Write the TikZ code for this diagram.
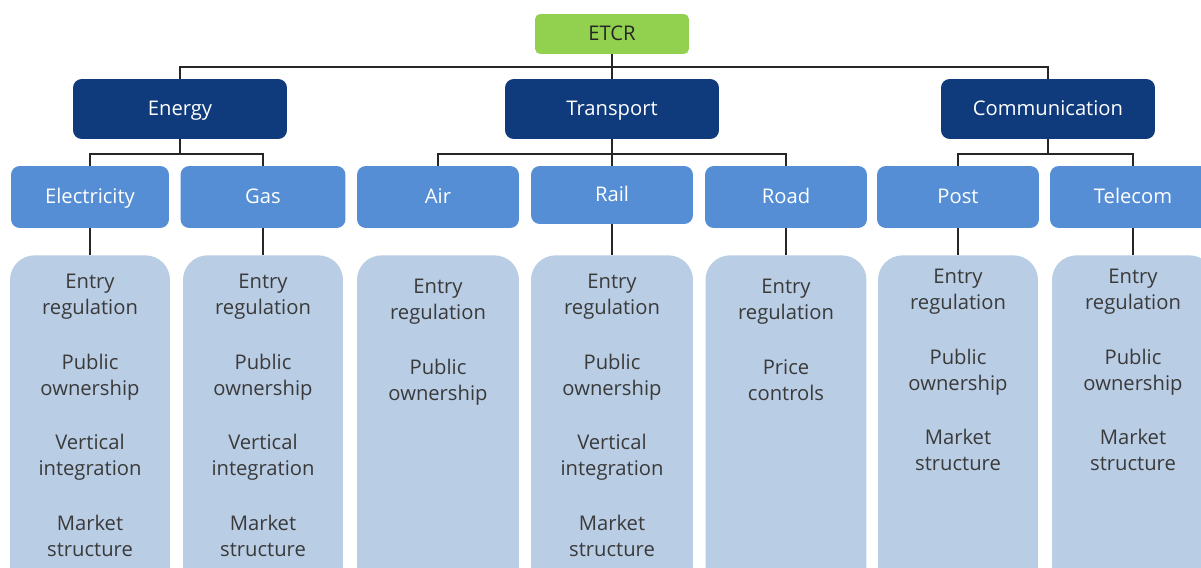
\documentclass[tikz,border=0pt]{standalone}
\usepackage{fontspec}
\setmainfont{Open Sans}
\usetikzlibrary{positioning}
\definecolor{etcrgreen}{HTML}{92D050}
\definecolor{sectorblue}{HTML}{0F3A7B}
\definecolor{industryblue}{HTML}{558ED5}
\definecolor{listblue}{HTML}{B9CDE5}
\definecolor{listgray}{HTML}{3A3A3A}
\begin{document}
\begin{tikzpicture}[x=0.02cm,y=-0.02cm,
  font=\fontsize{11.5}{14.8}\selectfont,
  topbox/.style={fill=etcrgreen, rounded corners=3pt, minimum width=3.08cm, minimum height=0.8cm, text=black!85, text height=1.6ex, text depth=0.3ex},
  sector/.style={fill=sectorblue, rounded corners=5pt, minimum width=4.28cm, minimum height=1.2cm, text=white, text height=1.6ex, text depth=0.3ex},
  industry/.style={fill=industryblue, rounded corners=5pt, minimum width=3.24cm, minimum height=1.24cm, text=white, text height=1.6ex, text depth=0.3ex},
  listbox/.style={fill=listblue, rounded corners=14pt, minimum width=3.2cm, minimum height=7cm, anchor=north},
  listitems/.style={align=center, text=listgray, inner sep=0pt},
  link/.style={draw=black!85, line width=0.8pt}]
\clip (0,0) rectangle (1201,568);
\node[topbox] (etcr) at (612,34) {ETCR};
\node[sector] (energy) at (180,109) {Energy};
\node[sector] (transport) at (612,109) {Transport};
\node[sector] (comm) at (1048,109) {Communication};
\node[industry, minimum width=3.16cm] (elec) at (90,197) {Electricity};
\node[industry, minimum width=3.3cm] (gas) at (263,197) {Gas};
\node[industry] (air) at (438,197) {Air};
\node[industry, minimum height=1.16cm] (rail) at (612,195) {Rail};
\node[industry] (road) at (786,197) {Road};
\node[industry] (post) at (958,197) {Post};
\node[industry, minimum width=3.32cm] (telecom) at (1133,197) {Telecom};
\node[listbox] (eleclist) at (90,255) {};
\node[listbox] (gaslist) at (263,255) {};
\node[listbox, minimum width=3.24cm] (airlist) at (438,255) {};
\node[listbox, minimum width=3.24cm] (raillist) at (612,255) {};
\node[listbox, minimum width=3.22cm] (roadlist) at (786,255) {};
\node[listbox] (postlist) at (958,255) {};
\node[listbox, minimum width=3.24cm] (telecomlist) at (1133,255) {};
\node[listitems, below=0.38cm of eleclist.north] {Entry\\regulation\\[16.2pt]Public\\ownership\\[16.2pt]Vertical\\integration\\[16.2pt]Market\\structure};
\node[listitems, below=0.38cm of gaslist.north] {Entry\\regulation\\[16.2pt]Public\\ownership\\[16.2pt]Vertical\\integration\\[16.2pt]Market\\structure};
\node[listitems, below=0.48cm of airlist.north] {Entry\\regulation\\[16.2pt]Public\\ownership};
\node[listitems, below=0.38cm of raillist.north] {Entry\\regulation\\[16.2pt]Public\\ownership\\[16.2pt]Vertical\\integration\\[16.2pt]Market\\structure};
\node[listitems, below=0.48cm of roadlist.north] {Entry\\regulation\\[16.2pt]Price\\controls};
\node[listitems, below=0.28cm of postlist.north] {Entry\\regulation\\[16.2pt]Public\\ownership\\[16.2pt]Market\\structure};
\node[listitems, below=0.28cm of telecomlist.north] {Entry\\regulation\\[16.2pt]Public\\ownership\\[16.2pt]Market\\structure};
\coordinate (topbus) at (612,67);
\coordinate (energybus) at (180,154);
\coordinate (transportbus) at (612,154);
\coordinate (commbus) at (1048,154);
\draw[link] (etcr.south) -- (transport.north);
\draw[link] (energy.north) |- (topbus) -| (comm.north);
\draw[link] (energy.south) -- (energybus);
\draw[link] (elec.north) |- (energybus) -| (gas.north);
\draw[link] (transport.south) -- (rail.north);
\draw[link] (air.north) |- (transportbus) -| (road.north);
\draw[link] (comm.south) -- (commbus);
\draw[link] (post.north) |- (commbus) -| (telecom.north);
\draw[link] (elec.south) -- (eleclist.north);
\draw[link] (gas.south) -- (gaslist.north);
\draw[link] (rail.south) -- (raillist.north);
\draw[link] (road.south) -- (roadlist.north);
\draw[link] (post.south) -- (postlist.north);
\draw[link] (telecom.south) -- (telecomlist.north);
\end{tikzpicture}
\end{document}
